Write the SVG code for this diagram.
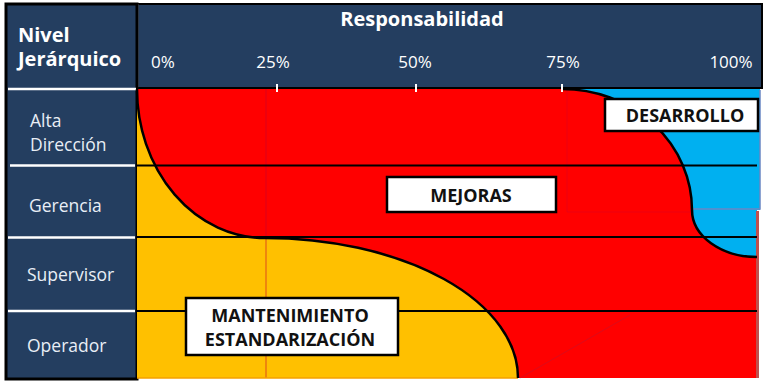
<svg xmlns="http://www.w3.org/2000/svg" width="768" height="386" viewBox="0 0 768 386">
  <style>
    .hdr { fill: #ffffff; font-family: "Open Sans", "Liberation Sans", sans-serif; }
    .bold { font-weight: bold; }
    .row { fill: #E9EEF6; font-family: "Open Sans", "Liberation Sans", sans-serif; font-size: 17.5px; }
    .pct { fill: #ffffff; font-family: "Open Sans", "Liberation Sans", sans-serif; font-size: 17px; text-anchor: middle; }
    .lbl { fill: #111111; font-family: "Open Sans", "Liberation Sans", sans-serif; font-size: 18px; font-weight: bold; text-anchor: middle; }
    .box { fill: #ffffff; stroke: #000000; stroke-width: 2.5; }
    .grid { stroke: #000000; stroke-width: 2.2; fill: none; }
    .sep { stroke: #ffffff; stroke-width: 2.5; }
    .tick { stroke: #ffffff; stroke-width: 2; }
    .curve { stroke: #000000; stroke-width: 2.5; fill: none; }
  </style>
  <rect x="0" y="0" width="768" height="386" fill="#ffffff"/>

  <!-- header band -->
  <g id="header">
    <rect x="6" y="4" width="756" height="84" fill="#243E60" stroke="#000000" stroke-width="2"/>
    <line x1="137" y1="4" x2="137" y2="88" class="sep" stroke-width="2"/>
    <text x="422" y="26" class="hdr bold" font-size="20" text-anchor="middle">Responsabilidad</text>
    <text x="163" y="68" class="pct">0%</text>
    <text x="273" y="68" class="pct">25%</text>
    <text x="415" y="68" class="pct">50%</text>
    <text x="563" y="68" class="pct">75%</text>
    <text x="731" y="68" class="pct">100%</text>
  </g>

  <!-- left column -->
  <g id="levels">
    <rect x="6" y="4" width="131" height="375" fill="#243E60" stroke="#000000" stroke-width="3"/>
    <text class="hdr bold" font-size="20"><tspan x="18" y="42">Nivel</tspan><tspan x="18" y="66">Jerárquico</tspan></text>
    <line x1="8" y1="89" x2="136" y2="89" class="sep"/>
    <line x1="10" y1="165.5" x2="135" y2="165.5" class="sep"/>
    <line x1="8" y1="237.5" x2="135" y2="237.5" class="sep"/>
    <line x1="8" y1="311" x2="135" y2="311" class="sep"/>
    <g id="lvl-alta"><text class="row"><tspan x="30" y="127">Alta</tspan><tspan x="30" y="151">Dirección</tspan></text></g>
    <g id="lvl-gerencia"><text x="29" y="212" class="row">Gerencia</text></g>
    <g id="lvl-supervisor"><text x="27" y="281" class="row">Supervisor</text></g>
    <g id="lvl-operador"><text x="27" y="352" class="row">Operador</text></g>
  </g>

  <!-- chart area -->
  <g id="chart">
    <rect x="137" y="89" width="620" height="289" fill="#FF0000"/>
    <path d="M137,89 A128,149 0 0 0 265,238 A253,140 0 0 1 518,378 L137,378 Z" fill="#FFC000"/>
    <path d="M562,89 A130,121 0 0 1 692,210 A65,47 0 0 0 757,257 L757,210 L760,210 L760,89 Z" fill="#00B0F0"/>
    <rect x="756" y="211" width="3" height="167" fill="#C0504D"/>
    <path d="M760,90 L760,209 L693,209" fill="none" stroke="#6A86C4" stroke-width="1.5"/>
    <!-- faint artifact lines -->
    <line x1="266" y1="89" x2="266" y2="378" stroke="#C8002E" stroke-width="1.5" opacity="0.4"/>
    <path d="M567,90 L567,212 L693,212" fill="none" stroke="#C8002E" stroke-width="1" opacity="0.35"/>
    <line x1="520" y1="378" x2="630" y2="315" stroke="#A0204A" stroke-width="1" opacity="0.35"/>
    <line x1="137" y1="378" x2="518" y2="378" stroke="#F5A000" stroke-width="1.5"/>
  </g>

  <g id="grid-lines">
    <line x1="137" y1="165.5" x2="757" y2="165.5" class="grid"/>
    <line x1="137" y1="237" x2="757" y2="237" class="grid"/>
    <line x1="137" y1="311" x2="757" y2="311" class="grid"/>
    <line x1="137" y1="88" x2="762" y2="88" stroke="#000000" stroke-width="1.5"/>
  </g>

  <g id="curves">
    <path d="M137,89 A128,149 0 0 0 265,238 A253,140 0 0 1 518,378" class="curve"/>
    <path d="M562,89 A130,121 0 0 1 692,210 A65,47 0 0 0 757,257" class="curve"/>
  </g>

  <g id="ticks">
    <line x1="277" y1="84" x2="277" y2="92" class="tick"/>
    <line x1="416" y1="84" x2="416" y2="92" class="tick"/>
    <line x1="562" y1="84" x2="562" y2="92" class="tick"/>
  </g>

  <g id="desarrollo">
    <rect x="605" y="99" width="153" height="32" class="box"/>
    <text x="685" y="122" class="lbl">DESARROLLO</text>
  </g>
  <g id="mejoras">
    <rect x="387" y="177" width="169" height="35" class="box"/>
    <text x="471" y="202" class="lbl">MEJORAS</text>
  </g>
  <g id="mantenimiento">
    <rect x="186" y="298" width="212" height="57" class="box"/>
    <text class="lbl"><tspan x="290" y="322">MANTENIMIENTO</tspan><tspan x="290" y="346">ESTANDARIZACIÓN</tspan></text>
  </g>
</svg>
